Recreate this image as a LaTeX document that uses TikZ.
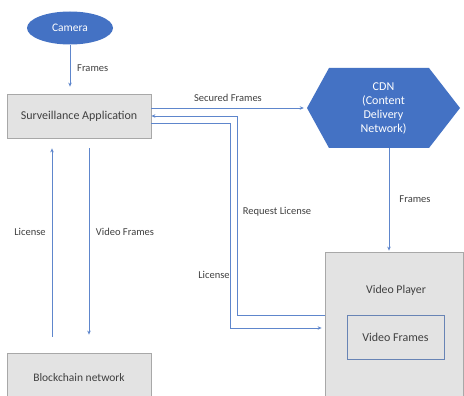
\documentclass[tikz,border=0pt]{standalone}
\usepackage{fontspec}
\setmainfont{Carlito}
\usetikzlibrary{arrows.meta,shapes.geometric}
\definecolor{lineblue}{HTML}{5E86CC}
\definecolor{fillblue}{HTML}{4472C4}
\definecolor{boxgray}{HTML}{E3E3E3}
\definecolor{boxline}{HTML}{A8A8A8}
\definecolor{txt}{HTML}{404040}
\tikzset{
  conn/.style={draw=lineblue, line width=0.8pt, -{Stealth[length=4pt,width=3.5pt]}},
  plain/.style={draw=lineblue, line width=0.8pt},
  graybox/.style={draw=boxline, fill=boxgray, line width=0.8pt, rectangle, inner sep=0pt, text=txt, font=\fontsize{12}{14}\selectfont},
  lbl/.style={text=txt, font=\fontsize{10.5}{12}\selectfont, inner sep=0pt},
}
\begin{document}
\begin{tikzpicture}[x=1pt,y=-1pt]
\clip (0,0) rectangle (464,396);
\fill[white] (0,0) rectangle (464,396);
% nodes
\node[ellipse, fill=fillblue, minimum width=86pt, minimum height=33pt, inner sep=0pt, text=white, font=\fontsize{11.5}{13}\selectfont] (cam) at (70,28) {Camera};
\node[graybox, minimum width=144pt, minimum height=44pt] (surv) at (79,116) {Surveillance Application};
\node[graybox, minimum width=144pt, minimum height=50pt] (chain) at (79,378) {};
\node[text=txt, font=\fontsize{11.5}{13}\selectfont] at (79,378) {Blockchain network};
% CDN hexagon
\fill[fillblue] (307,108) -- (329,68) -- (429,68) -- (460,108) -- (429,148) -- (329,148) -- cycle;
\node[minimum width=153pt, minimum height=80pt, inner sep=0pt, text=white, align=center, font=\fontsize{12}{14}\selectfont] (cdn) at (383.5,108) {CDN\\(Content\\Delivery\\Network)};
% video player
\node[graybox, minimum width=138pt, minimum height=150pt] (player) at (394,327) {};
\node[lbl, font=\fontsize{11.8}{13}\selectfont] (vp) at (396,290) {Video Player};
\node[draw=lineblue!70!gray, fill=boxgray, line width=0.8pt, minimum width=97pt, minimum height=44pt, inner sep=0pt, text=txt, font=\fontsize{12}{14}\selectfont] (vf) at (395.5,337) {Video Frames};
% coordinates
\coordinate (lic) at (52,0);
\coordinate (vfr) at (89,0);
\coordinate (rl) at (237,315);
\coordinate (lc1) at (230,123);
\coordinate (lc2) at (230,328);
\coordinate (cf) at (389,0);
% connectors
\draw[conn, shorten >=7pt] (cam.south) -- (cam.south |- surv.north);
\draw[conn, shorten >=3pt] (surv.east |- cdn.west) -- (cdn.west);
\draw[conn, shorten >=1pt] (cf |- cdn.south) -- (cf |- player.north);
\draw[conn] (player.west |- rl) -- (rl) |- (surv.east);
\draw[conn, shorten >=3pt] (surv.east |- lc1) -- (lc1) -- (lc2) -- (player.west |- lc2);
\draw[conn, shorten <=16pt, shorten >=10pt] (chain.north -| lic) -- (surv.south -| lic);
\draw[conn, shorten <=10pt, shorten >=18pt] (surv.south -| vfr) -- (chain.north -| vfr);
% labels
\node[lbl, anchor=west] at (77,68) {Frames};
\node[lbl] at (228,98) {Secured Frames};
\node[lbl] at (277,212) {Request License};
\node[lbl] at (214,275) {License};
\node[lbl] at (30,232) {License};
\node[lbl] at (125,232) {Video Frames};
\node[lbl] at (415,199) {Frames};
\end{tikzpicture}
\end{document}
